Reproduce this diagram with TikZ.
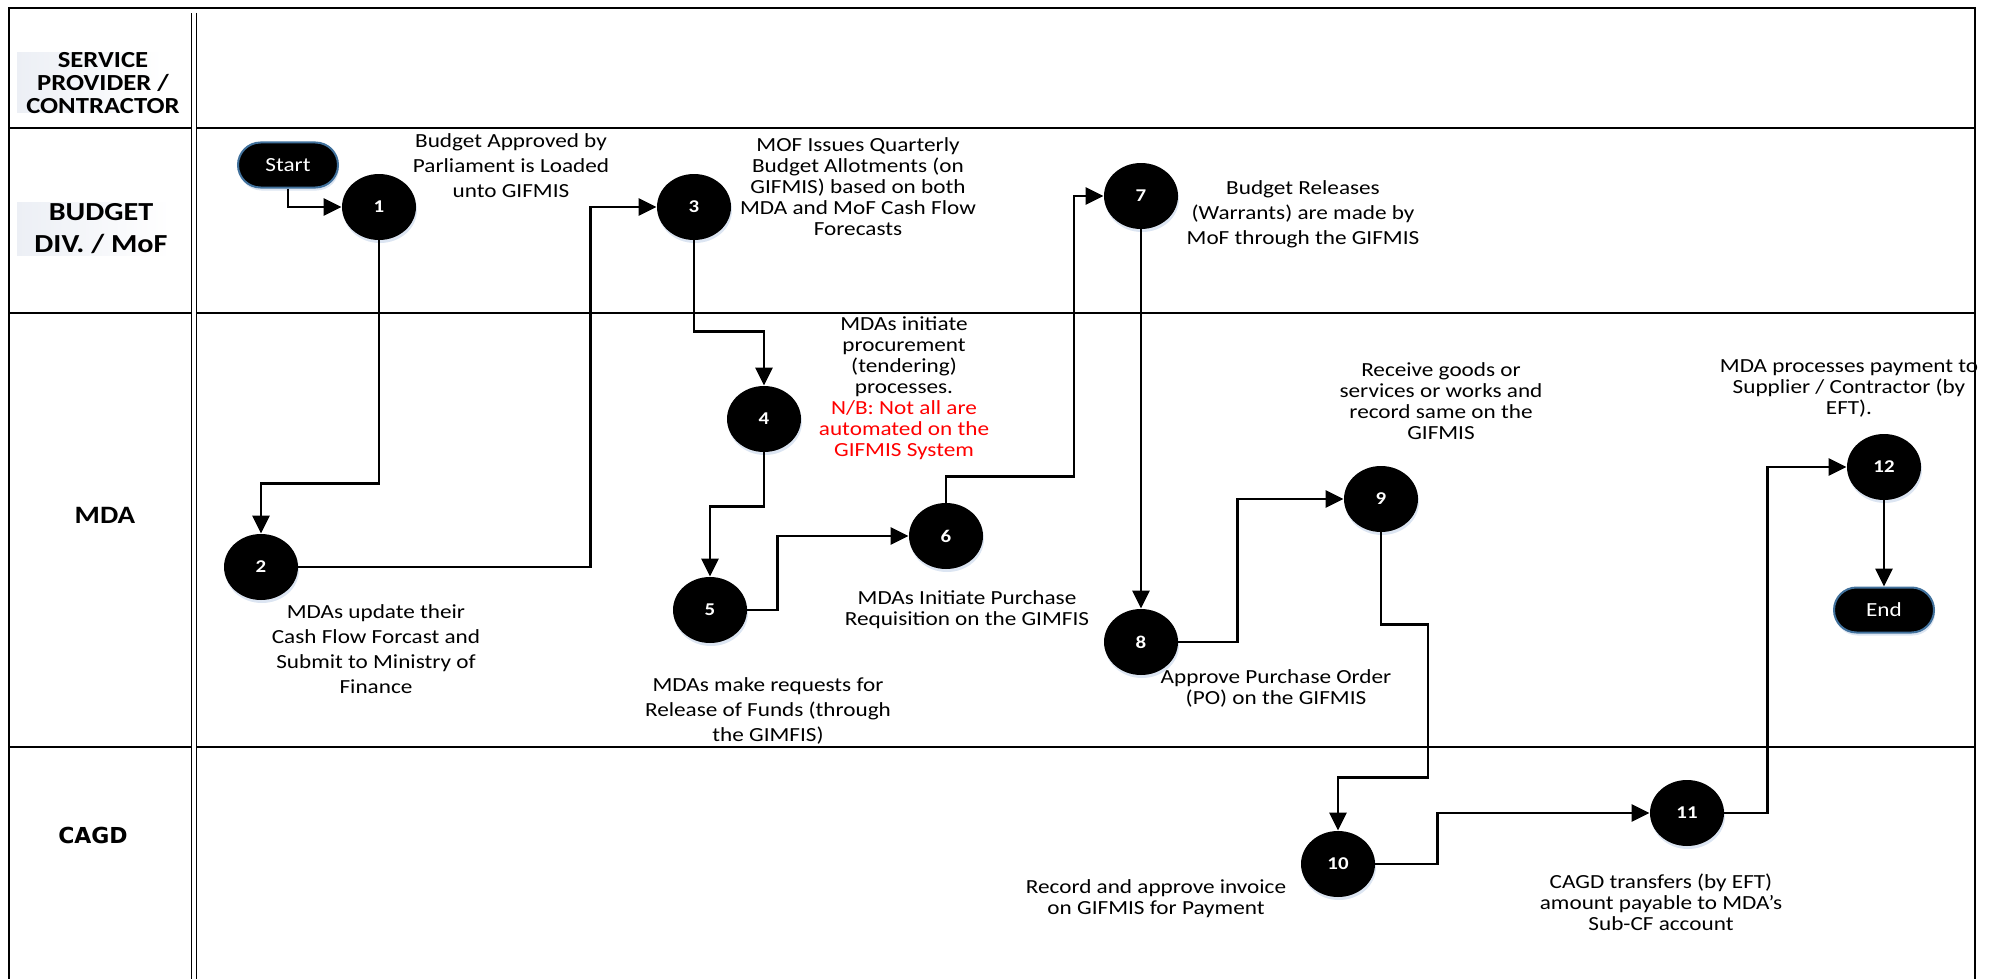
\documentclass[tikz,border=0pt]{standalone}
\usepackage{fontspec}
\setmainfont{Carlito}[FakeStretch=1.16]
\newfontfamily\lanefont{DejaVu Sans}
\usetikzlibrary{arrows.meta,shapes.geometric,shapes.misc,shadows}

\definecolor{termline}{RGB}{65,113,156}
\definecolor{glow}{RGB}{205,218,236}
\definecolor{lanefill}{RGB}{236,239,245}

\tikzset{
  stepnode/.style={ellipse, fill=black, minimum width=37pt, minimum height=33pt, inner sep=0pt, text=white, font=\fontsize{9}{9}\selectfont\bfseries, drop shadow={shadow xshift=0.5pt, shadow yshift=-1.5pt, fill=glow, opacity=0.7}},
  term/.style={rounded rectangle, fill=black, draw=termline, line width=1pt, minimum width=50pt, minimum height=22.5pt, inner sep=0pt, text=white, font=\fontsize{10}{10}\selectfont, drop shadow={shadow xshift=0.5pt, shadow yshift=-1.5pt, fill=glow, opacity=0.7}},
  note/.style={align=center, inner sep=0pt, font=\fontsize{10}{12.5}\selectfont},
  tight/.style={align=center, inner sep=0pt, font=\fontsize{10}{10.5}\selectfont},
  lane/.style={align=center, inner sep=0pt, font=\fontsize{11.5}{11.5}\selectfont\bfseries},
  flow/.style={line width=1.4pt, -{Triangle[length=9pt,width=8.5pt]}},
}

\begin{document}
\begin{tikzpicture}[x=0.5pt, y=-0.5pt]
\useasboundingbox (0,0) rectangle (1997,979);
\fill[left color=lanefill, right color=white] (17,53) rectangle (162,113);
\fill[left color=lanefill, right color=white] (17,202) rectangle (170,255);
\draw[line width=1.3pt] (9,979) -- (9,8) -- (1975,8) -- (1975,979);
\draw[line width=0.9pt] (9,128) -- (1975,128) (9,313) -- (1975,313) (9,747) -- (1975,747);
\draw[double, line width=0.6pt, double distance=1.6pt] (194,13) -- (194,979);

\node[lane] (spc) at (103,83) {SERVICE\\PROVIDER /\\CONTRACTOR};
\node[lane, font=\fontsize{13}{16}\selectfont\bfseries] (bud) at (101,229) {BUDGET\\DIV. / MoF};
\node[lane, font=\fontsize{12.5}{13}\selectfont\bfseries] (mda) at (105,515) {MDA};
\node[lane, font=\lanefont\bfseries\fontsize{11}{12}\selectfont] (cagd) at (93,835) {CAGD};

\node[term] (start) at (288,165) {Start};
\node[stepnode] (n1) at (379,207) {1};
\node[stepnode] (n2) at (261,567) {2};
\node[stepnode] (n3) at (694,207) {3};
\node[stepnode] (n4) at (764,419) {4};
\node[stepnode] (n5) at (710,610) {5};
\node[stepnode] (n6) at (946,536) {6};
\node[stepnode] (n7) at (1141,196) {7};
\node[stepnode] (n8) at (1141,642) {8};
\node[stepnode] (n9) at (1381,499) {9};
\node[stepnode] (n10) at (1338,864) {10};
\node[stepnode] (n11) at (1687,813) {11};
\node[stepnode] (n12) at (1884,467) {12};
\node[term] (end) at (1884,610) {End};

\node[note] (t1) at (511,166) {Budget Approved by\\Parliament is Loaded\\unto GIFMIS};
\node[note] (t2) at (376,649) {MDAs update their\\Cash Flow Forcast and\\Submit to Ministry of\\Finance};
\node[tight] (t3) at (858,187) {MOF Issues Quarterly\\Budget Allotments (on\\GIFMIS) based on both\\MDA and MoF Cash Flow\\Forecasts};
\node[tight] (t4) at (904,388) {MDAs initiate\\procurement\\(tendering)\\processes.\\\textcolor{red}{N/B: Not all are}\\\textcolor{red}{automated on the}\\\textcolor{red}{GIFMIS System}};
\node[note] (t5) at (768,711) {MDAs make requests for\\Release of Funds (through\\the GIMFIS)};
\node[tight] (t6) at (967,610) {MDAs Initiate Purchase\\Requisition on the GIMFIS};
\node[note] (t7) at (1303,214) {Budget Releases\\(Warrants) are made by\\MoF through the GIFMIS};
\node[tight] (t8) at (1276,688) {Approve Purchase Order\\(PO) on the GIFMIS};
\node[tight] (t9) at (1441,401) {Receive goods or\\services or works and\\record same on the\\GIFMIS};
\node[tight] (t10) at (1156,899) {Record and approve invoice\\on GIFMIS for Payment};
\node[tight] (t11) at (1661,902) {CAGD transfers (by EFT)\\amount payable to MDA’s\\Sub-CF account};
\node[tight] (t12) at (1849,388) {MDA processes payment to\\Supplier / Contractor (by\\EFT).};

\draw[flow] (start.south) |- (n1.west);
\draw[flow] (n1.south) -- ++(0,243) -| (n2.north);
\draw[flow] (n2.east) -- ++(292,0) |- (n3.west);
\draw[flow] (n3.south) -- ++(0,91) -| (n4.north);
\draw[flow] (n4.south) -- ++(0,54) -| (n5.north);
\draw[flow] (n5.east) -- ++(30,0) |- (n6.west);
\draw[flow] (n6.north) -- ++(0,-26) -- ++(128,0) |- (n7.west);
\draw[flow] (n7.south) -- (n8.north);
\draw[flow] (n8.east) -- ++(59,0) |- (n9.west);
\draw[flow] (n9.south) -- ++(0,92) -| ++(47,153) -| (n10.north);
\draw[flow] (n10.east) -- ++(62,0) |- (n11.west);
\draw[flow] (n11.east) -- ++(43,0) |- (n12.west);
\draw[flow] (n12.south) -- (end.north);
\end{tikzpicture}
\end{document}
